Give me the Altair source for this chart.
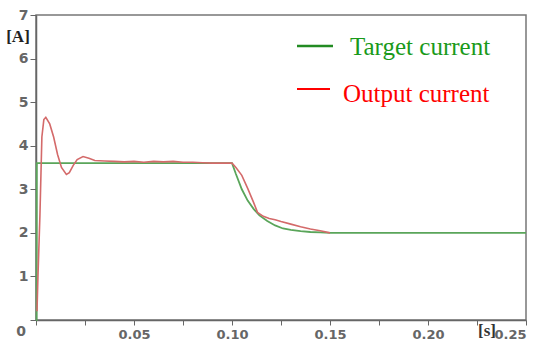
import altair as alt
import pandas as pd

# Target current
target_t = [0.0, 0.0003, 0.0004, 0.100, 0.102, 0.105, 0.108, 0.111, 0.114, 0.118,
            0.122, 0.126, 0.130, 0.135, 0.140, 0.145, 0.150, 0.250]
target_v = [0.0, 0.0, 3.6, 3.6, 3.35, 3.00, 2.74, 2.55, 2.40, 2.27,
            2.17, 2.10, 2.07, 2.04, 2.02, 2.01, 2.00, 2.00]

# Output current
output_t = [0.0005, 0.001, 0.002, 0.0025, 0.003, 0.004, 0.005, 0.007, 0.009, 0.011,
            0.013, 0.0155, 0.017, 0.019, 0.021, 0.024, 0.027, 0.030, 0.035, 0.040,
            0.045, 0.050, 0.055, 0.060, 0.065, 0.070, 0.075, 0.080, 0.085, 0.090,
            0.100, 0.102, 0.105, 0.108, 0.111, 0.113, 0.116, 0.119, 0.122, 0.125,
            0.130, 0.135, 0.140, 0.145, 0.150]
output_v = [0.2, 1.0, 2.4, 3.3, 4.2, 4.6, 4.65, 4.5, 4.2, 3.8,
            3.5, 3.34, 3.38, 3.55, 3.68, 3.75, 3.71, 3.66, 3.65, 3.64,
            3.63, 3.64, 3.62, 3.64, 3.63, 3.64, 3.62, 3.62, 3.61, 3.60,
            3.60, 3.50, 3.32, 3.02, 2.70, 2.47, 2.38, 2.33, 2.30, 2.26,
            2.20, 2.14, 2.09, 2.05, 2.00]

legend_labels = ["Target current", "Output current"]
x_ticks = [0.025 * i for i in range(11)]
y_ticks = [0, 1, 2, 3, 4, 5, 6, 7]

df_target = pd.DataFrame({"t": target_t, "v": target_v})
df_output = pd.DataFrame({"t": output_t, "v": output_v})

W, H = 490, 305
AXIS_FONT = "DejaVu Sans"

x_enc = alt.X("t:Q", scale=alt.Scale(domain=[0, 0.25], nice=False),
              axis=alt.Axis(values=x_ticks, title=None, grid=False,
                            labelExpr="(round(datum.value*1000) % 50 == 0 && datum.value > 0) ? format(datum.value, '.2f') : ''",
                            labelFont=AXIS_FONT, labelFontSize=13, labelFontWeight="bold",
                            labelColor="#666666",
                            domainColor="#666666", tickColor="#666666", tickSize=5,
                            labelPadding=3, domainWidth=1.5))
y_enc = alt.Y("v:Q", scale=alt.Scale(domain=[0, 7], nice=False),
              axis=alt.Axis(values=y_ticks, title=None, grid=False,
                            labelExpr="datum.value > 0 ? datum.label : ''",
                            labelFont=AXIS_FONT, labelFontSize=14, labelFontWeight="bold",
                            labelColor="#666666",
                            domainColor="#666666", tickColor="#666666", tickSize=6,
                            labelPadding=2, domainWidth=1.5))

target_line = alt.Chart(df_target).mark_line(color="#5aa55a", strokeWidth=1.8).encode(x=x_enc, y=y_enc)
output_line = alt.Chart(df_output).mark_line(color="#d46a6a", strokeWidth=1.6).encode(x=x_enc, y=y_enc)

# legend (drawn inside plot)
leg_df = pd.DataFrame({"label": legend_labels})
leg_green_line = alt.Chart(leg_df.iloc[[0]]).mark_rule(color="#228b22", strokeWidth=2.5).encode(
    x=alt.value(297 - 36), x2=alt.value(333 - 36), y=alt.value(46 - 15))
leg_red_line = alt.Chart(leg_df.iloc[[1]]).mark_rule(color="#ff0000", strokeWidth=2).encode(
    x=alt.value(297 - 36), x2=alt.value(330 - 36), y=alt.value(89 - 15))
leg_green_text = alt.Chart(leg_df.iloc[[0]]).mark_text(
    font="Liberation Serif", fontSize=25, color="#1a9a1a", align="left", baseline="alphabetic").encode(
    x=alt.value(350 - 36), y=alt.value(55 - 15), text="label:N")
leg_red_text = alt.Chart(leg_df.iloc[[1]]).mark_text(
    font="Liberation Serif", fontSize=25, color="#ff0000", align="left", baseline="alphabetic").encode(
    x=alt.value(343 - 36), y=alt.value(102 - 15), text="label:N")

# axis annotations
ann_df = pd.DataFrame({"txt": ["[A]", "[s]", "0"]})
a_unit = alt.Chart(ann_df.iloc[[0]]).mark_text(
    font="Liberation Serif", fontSize=17, fontWeight="bold", color="#222222", align="center", baseline="middle").encode(
    x=alt.value(18 - 36), y=alt.value(37 - 15), text="txt:N")
s_unit = alt.Chart(ann_df.iloc[[1]]).mark_text(
    font="Liberation Serif", fontSize=17, fontWeight="bold", color="#333333", align="center", baseline="middle").encode(
    x=alt.value(487 - 36), y=alt.value(331 - 15), text="txt:N")
zero = alt.Chart(ann_df.iloc[[2]]).mark_text(
    font=AXIS_FONT, fontSize=14, fontWeight="bold", color="#666666", align="center", baseline="middle").encode(
    x=alt.value(21 - 36), y=alt.value(332 - 15), text="txt:N")

chart = alt.layer(target_line, output_line, leg_green_line, leg_red_line,
                  leg_green_text, leg_red_text, a_unit, s_unit, zero).properties(
    width=W, height=H,
    autosize=alt.AutoSizeParams(type="none"),
    padding={"left": 36, "top": 15, "right": 15, "bottom": 23},
    background="white",
).configure_view(stroke="#777777", strokeWidth=1.5)

chart.save("out.html", embed_options={"renderer": "svg", "actions": False})
